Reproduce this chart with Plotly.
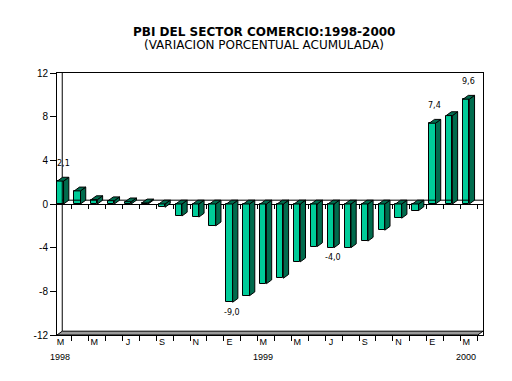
import plotly.graph_objects as go

# ---- data ----
periods = ["Mar-98","Abr-98","May-98","Jun-98","Jul-98","Ago-98","Set-98","Oct-98","Nov-98","Dic-98",
           "Ene-99","Feb-99","Mar-99","Abr-99","May-99","Jun-99","Jul-99","Ago-99","Set-99","Oct-99",
           "Nov-99","Dic-99","Ene-00","Feb-00","Mar-00"]
month_initials = ["M","A","M","J","J","A","S","O","N","D","E","F","M","A","M","J","J","A","S","O","N","D","E","F","M"]
values = [2.1, 1.2, 0.4, 0.3, 0.2, 0.1, -0.3, -1.1, -1.2, -2.0,
          -9.0, -8.4, -7.3, -6.8, -5.3, -3.9, -4.0, -4.0, -3.4, -2.4,
          -1.3, -0.6, 7.4, 8.1, 9.6]
labeled_idx = [0, 10, 16, 22, 24]
year_labels = {0: "1998", 12: "1999", 24: "2000"}
y_ticks = [-12, -8, -4, 0, 4, 8, 12]

# ---- geometry (style) ----
FRONT = "#00CC99"
SIDE = "#006B4D"
off = -0.48      # front-face left offset from category position
w = 0.37         # front-face width
dx = 0.31        # depth in x units
dy = 0.35        # depth in y units
x0, x1 = -0.5, 24.7
ylo, yhi = -12, 12

n = len(values)
xs = list(range(n))

fig = go.Figure()

# floor at the bottom
fig.add_trace(go.Scatter(
    x=[x0, x1 - dx, x1, x0 + dx, x0], y=[ylo, ylo, ylo + dy, ylo + dy, ylo],
    mode="lines", fill="toself", fillcolor="#9a9a9a",
    line=dict(color="black", width=1), hoverinfo="skip", showlegend=False))
# back wall line
fig.add_trace(go.Scatter(
    x=[x0 + dx, x0 + dx], y=[ylo + dy, yhi], mode="lines",
    line=dict(color="black", width=1), hoverinfo="skip", showlegend=False))
# zero plane back line
fig.add_trace(go.Scatter(
    x=[x0 + dx, x1], y=[dy, dy], mode="lines",
    line=dict(color="black", width=1), hoverinfo="skip", showlegend=False))

# front faces
fig.add_trace(go.Bar(
    x=xs, y=values, width=w, offset=off,
    marker=dict(color=FRONT, line=dict(color="black", width=1)),
    hovertext=periods, showlegend=False))

# side and top faces
sx, sy, tx, ty = [], [], [], []
for i, v in enumerate(values):
    top = max(v, 0)
    bot = min(v, 0)
    l = i + off
    r = l + w
    sx += [r, r, r + dx, r + dx, r, None]
    sy += [bot, top, top + dy, bot + dy, bot, None]
    tx += [l, r, r + dx, l + dx, l, None]
    ty += [top, top, top + dy, top + dy, top, None]
fig.add_trace(go.Scatter(x=sx, y=sy, mode="lines", fill="toself", fillcolor=SIDE,
                         line=dict(color="black", width=1), hoverinfo="skip", showlegend=False))
fig.add_trace(go.Scatter(x=tx, y=ty, mode="lines", fill="toself", fillcolor=SIDE,
                         line=dict(color="black", width=1), hoverinfo="skip", showlegend=False))

# invisible traces to activate the extra axes
fig.add_trace(go.Scatter(x=[x0], y=[0], xaxis="x2", mode="markers", marker=dict(opacity=0),
                         hoverinfo="skip", showlegend=False))
fig.add_trace(go.Scatter(x=[x0], y=[0], xaxis="x3", mode="markers", marker=dict(opacity=0),
                         hoverinfo="skip", showlegend=False))

# value labels
for i in labeled_idx:
    v = values[i]
    fig.add_annotation(x=i + off + w / 2 + 0.15, y=v, text=f"{v:.1f}".replace(".", ","),
                       showarrow=False, font=dict(size=8, color="black", family="DejaVu Sans"),
                       yshift=18 if v > 0 else -10)

# year labels
for i, t in year_labels.items():
    fig.add_annotation(x=i + off + w / 2, y=-0.112, yref="paper", text=t, showarrow=False,
                       font=dict(size=9, color="black", family="Liberation Sans"))

tick_pos = [i + 0.37 for i in xs]
label_pos = [i + off + w / 2 for i in xs[::2]]
label_txt = month_initials[::2]

fig.add_annotation(x=0.487, xref="paper", y=1.19, yref="paper",
                   text="<b>PBI DEL SECTOR COMERCIO:1998-2000</b>", showarrow=False,
                   font=dict(size=12, color="black", family="DejaVu Sans"))
fig.add_annotation(x=0.487, xref="paper", y=1.141, yref="paper",
                   text="(VARIACION PORCENTUAL ACUMULADA)", showarrow=False,
                   font=dict(size=12, color="black", family="DejaVu Sans"))

fig.update_layout(
    width=504, height=373,
    margin=dict(l=49, r=29, t=65, b=46),
    paper_bgcolor="white", plot_bgcolor="white",
    font=dict(family="Liberation Sans", color="black"),
    xaxis=dict(range=[x0, x1], showgrid=False, zeroline=False, showline=True, mirror=True,
               linecolor="black", linewidth=1, ticks="outside", ticklen=5, tickcolor="black",
               tickvals=tick_pos, showticklabels=False, fixedrange=True),
    xaxis2=dict(range=[x0, x1], overlaying="x", anchor="y", side="bottom", showgrid=False,
                zeroline=False, showline=False, ticks="",
                tickvals=label_pos, ticktext=label_txt,
                tickfont=dict(size=9, color="black")),
    xaxis3=dict(range=[x0, x1], overlaying="x", anchor="free", position=0.5, showgrid=False,
                zeroline=False, showline=True, linecolor="black", linewidth=1,
                ticks="outside", ticklen=4, tickcolor="black", tickvals=tick_pos,
                showticklabels=False, layer="below traces"),
    yaxis=dict(range=[ylo, yhi], showgrid=False, zeroline=False, showline=True, mirror=True,
               linecolor="black", linewidth=1, ticks="outside", ticklen=6, tickcolor="black",
               tickvals=y_ticks, ticktext=[str(t) for t in y_ticks],
               tickfont=dict(size=10, color="black"), fixedrange=True),
    bargap=0,
)

fig.write_html("out.html")
